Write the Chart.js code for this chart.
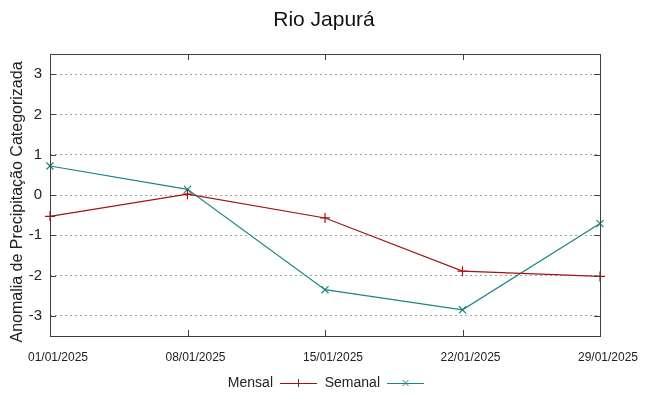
<!DOCTYPE html>
<html>
<head>
<meta charset="utf-8">
<script src="https://cdn.jsdelivr.net/npm/chart.js@4"></script>
<style>
  html, body { margin: 0; padding: 0; background: #fff; }
  #wrap { width: 648px; height: 396px; }
</style>
</head>
<body>
<div id="wrap"><canvas id="grafico" width="648" height="396"></canvas></div>
<script>
// Datas (eixo x)
const datas = ['01/01/2025', '08/01/2025', '15/01/2025', '22/01/2025', '29/01/2025'];
// Anomalia mensal e semanal
const mensal = [-0.53, 0.02, -0.57, -1.89, -2.02];
const semanal = [0.72, 0.14, -2.35, -2.85, -0.71];
const yTicks = [-3, -2, -1, 0, 1, 2, 3];
const titulo = 'Rio Japurá';
const tituloY = 'Anomalia de Precipitação Categorizada';

const corMensal = '#a31515';
const corSemanal = '#1a8585';
const fonte = '"Liberation Sans", Arial, sans-serif';

// Moldura estilo gnuplot, marcas internas, títulos e legenda
const molduraPlugin = {
  id: 'moldura',
  afterDraw(chart) {
    const { ctx, chartArea: a, scales } = chart;
    ctx.save();
    ctx.strokeStyle = '#404040';
    ctx.lineWidth = 1;
    ctx.strokeRect(a.left + 0.5, a.top + 0.5, a.right - a.left, a.bottom - a.top);
    ctx.beginPath();
    yTicks.forEach(v => {
      const y = Math.round(scales.y.getPixelForValue(v)) + 0.5;
      ctx.moveTo(a.left, y); ctx.lineTo(a.left + 6, y);
      ctx.moveTo(a.right, y); ctx.lineTo(a.right - 6, y);
    });
    datas.forEach((d, i) => {
      const x = Math.round(scales.x.getPixelForValue(i)) + 0.5;
      ctx.moveTo(x, a.bottom); ctx.lineTo(x, a.bottom - 6);
      ctx.moveTo(x, a.top); ctx.lineTo(x, a.top + 6);
    });
    ctx.stroke();

    // título
    ctx.font = '21px ' + fonte;
    ctx.fillStyle = '#111';
    ctx.textAlign = 'center';
    ctx.textBaseline = 'middle';
    ctx.fillText(titulo, 324, 20);

    // título do eixo y
    ctx.save();
    ctx.translate(18, 202);
    ctx.rotate(-Math.PI / 2);
    ctx.font = '16px ' + fonte;
    ctx.fillStyle = '#222';
    ctx.fillText(tituloY, 0, 0);
    ctx.restore();

    // legenda
    ctx.font = '14px ' + fonte;
    ctx.textAlign = 'right';
    const yl = 383;
    let x = 273;
    chart.data.datasets.forEach(ds => {
      ctx.fillStyle = '#222';
      ctx.fillText(ds.label, x, yl);
      const x0 = x + 7, x1 = x + 44, xm = (x0 + x1) / 2;
      ctx.strokeStyle = ds.borderColor;
      ctx.beginPath();
      ctx.moveTo(x0, yl + 0.5); ctx.lineTo(x1, yl + 0.5);
      if (ds.pointStyle === 'cross') {
        ctx.moveTo(xm, yl - 4); ctx.lineTo(xm, yl + 4);
      } else {
        ctx.moveTo(xm - 3, yl - 3); ctx.lineTo(xm + 3, yl + 3);
        ctx.moveTo(xm - 3, yl + 3); ctx.lineTo(xm + 3, yl - 3);
      }
      ctx.stroke();
      x = 380;
    });
    ctx.restore();
  }
};

new Chart(document.getElementById('grafico'), {
  type: 'line',
  data: {
    labels: datas,
    datasets: [
      {
        label: 'Mensal',
        data: mensal,
        borderColor: corMensal,
        backgroundColor: corMensal,
        borderWidth: 1.2,
        pointStyle: 'cross',
        pointRadius: 5,
        pointBorderWidth: 1.2,
        tension: 0
      },
      {
        label: 'Semanal',
        data: semanal,
        borderColor: corSemanal,
        backgroundColor: corSemanal,
        borderWidth: 1.2,
        pointStyle: 'crossRot',
        pointRadius: 5,
        pointBorderWidth: 1.2,
        tension: 0
      }
    ]
  },
  options: {
    responsive: false,
    animation: false,
    layout: { padding: { top: 54, right: 48, bottom: 30, left: 0 } },
    scales: {
      x: {
        type: 'category',
        offset: false,
        grid: { display: false },
        border: { display: false },
        ticks: {
          color: '#222',
          font: { family: fonte, size: 12 },
          padding: 6,
          labelOffset: 8,
          maxRotation: 0,
          autoSkip: false
        },
        afterFit(scale) { scale.height = 30; }
      },
      y: {
        min: -3.5,
        max: 3.5,
        afterBuildTicks(scale) { scale.ticks = yTicks.map(v => ({ value: v })); },
        grid: { color: '#a0a0a0', lineWidth: 1, drawTicks: false },
        border: { display: false, dash: [2, 3] },
        ticks: {
          color: '#222',
          font: { family: fonte, size: 15 },
          padding: 8
        },
        title: { display: false },
        afterFit(scale) { scale.width = 50; }
      }
    },
    plugins: {
      legend: { display: false },
      tooltip: { enabled: false },
      title: { display: false }
    }
  },
  plugins: [molduraPlugin]
});
</script>
</body>
</html>
